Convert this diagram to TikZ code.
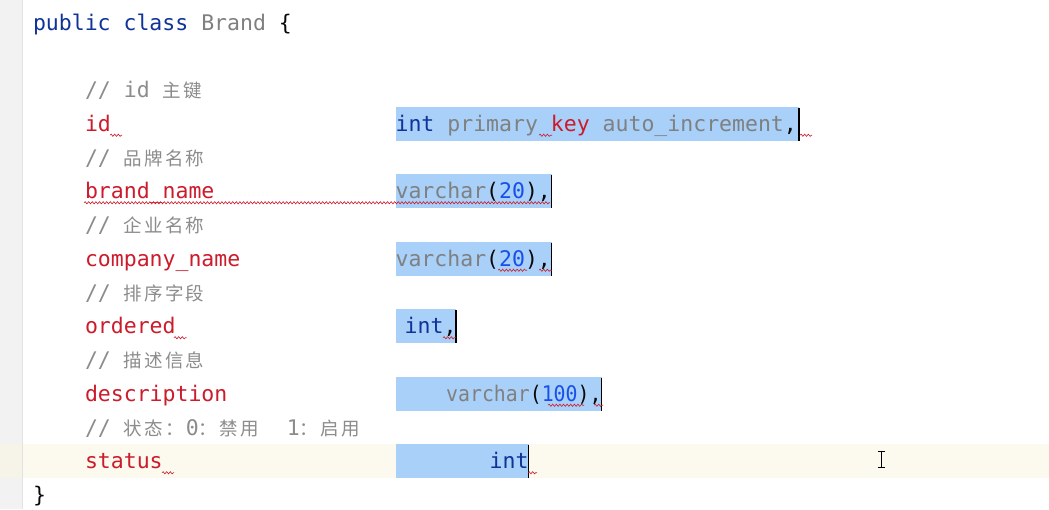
\documentclass[tikz,border=0pt]{standalone}
\usepackage{fontspec}
\newfontfamily\monof{DejaVu Sans Mono}
\newfontfamily\cjkf{Noto Sans CJK SC}
\usetikzlibrary{decorations.pathmorphing}
\definecolor{kw}{HTML}{0F3399}
\definecolor{cm}{HTML}{8C8C8C}
\definecolor{er}{HTML}{CC1B2B}
\definecolor{num}{HTML}{1750EB}
\definecolor{gr}{HTML}{808080}
\definecolor{tx}{HTML}{080808}
\definecolor{sel}{HTML}{A8D0F8}
\definecolor{curline}{HTML}{FCFAEE}
\definecolor{curgut}{HTML}{F6F3E9}
\definecolor{gutter}{HTML}{F2F2F2}
\definecolor{gutline}{HTML}{E2E2E2}
\newcommand\zc[1]{\makebox[20.7pt][l]{\cjkf\fontsize{18.5}{22}\selectfont #1}}
\newcommand\K[1]{\textcolor{kw}{#1}}
\newcommand\G[1]{\textcolor{gr}{#1}}
\newcommand\R[1]{\textcolor{er}{#1}}
\newcommand\N[1]{\textcolor{num}{#1}}
\newcommand\C[1]{\textcolor{cm}{#1}}
\begin{document}
\begin{tikzpicture}[x=1pt,y=-1pt,
  code/.style={anchor=base west,inner sep=0pt,outer sep=0pt,text=tx,
    font=\monof\fontsize{21.5}{26}\selectfont},
  codeE/.style={code,anchor=base east},
  selbox/.style={fill=sel,draw=none},
  caret/.style={draw=black,line width=1.8pt},
  wavy/.style={draw=er,line width=0.6pt,decorate,
    decoration={snake,amplitude=1.1pt,segment length=3.6pt}}]
\useasboundingbox (0,0) rectangle (1049,509);
\fill[white] (0,0) rectangle (1049,509);
% gutter
\fill[gutter] (0,0) rectangle (22,509);
% current line
\fill[curline] (23,444.25) rectangle (1049,478.25);
\fill[curgut] (0,444.25) rectangle (22,478.25);
\draw[gutline,line width=1pt] (22.5,0) -- (22.5,509);
% selections
\fill[selbox] (395.5,106.75) rectangle (799,140.75);
\fill[selbox] (395.5,174.25) rectangle (551.5,208.25);
\fill[selbox] (395.5,241.75) rectangle (551.5,275.75);
\fill[selbox] (395.5,309.25) rectangle (456,343.25);
\fill[selbox] (395.5,376.75) rectangle (601.5,410.75);
\fill[selbox] (395.5,444.25) rectangle (528.5,478.25);
% text
\node[code] (l0) at (33,30) {\K{public class} \G{Brand} \{};
\node[code] (c1) at (85,97.5) {\C{// id \zc{主}\zc{键}}};
\node[code] (f1) at (85,131.25) {\R{id}};
\node[code] (t1) at (395.6,131.25) {\K{int} \G{primary} \R{key} \G{auto\_increment},};
\node[code] (c2) at (85,165) {\C{// \zc{品}\zc{牌}\zc{名}\zc{称}}};
\node[code] (f2) at (85,198.75) {\R{brand\_name}};
\node[code] (t2) at (395.6,198.75) {\G{varchar}(\N{20}),};
\node[code] (c3) at (85,232.5) {\C{// \zc{企}\zc{业}\zc{名}\zc{称}}};
\node[code] (f3) at (85,266.25) {\R{company\_name}};
\node[code] (t3) at (395.6,266.25) {\G{varchar}(\N{20}),};
\node[code] (c4) at (85,300) {\C{// \zc{排}\zc{序}\zc{字}\zc{段}}};
\node[code] (f4) at (85,333.75) {\R{ordered}};
\node[codeE] (t4) at (456.5,333.75) {\K{int},};
\node[code] (c5) at (85,367.5) {\C{// \zc{描}\zc{述}\zc{信}\zc{息}}};
\node[code] (f5) at (85,401.25) {\R{description}};
\node[codeE] (t5) at (601.5,401.25) {\scalebox{0.923}[1]{\G{varchar}(\N{100}),}};
\node[code] (c6) at (85,435) {\C{// \zc{状}\zc{态}\zc{：}0\zc{：}\zc{禁}\zc{用}~~1\zc{：}\zc{启}\zc{用}}};
\node[code] (f6) at (85,468.75) {\R{status}};
\node[codeE] (t6) at (528.5,468.75) {\K{int}};
\node[code] (l14) at (33,502.5) {\}};
% carets
\draw[caret] (799,107.5) -- (799,140.75);
\draw[caret] (551.5,175) -- (551.5,208.25);
\draw[caret] (551.5,242.5) -- (551.5,275.75);
\draw[caret] (456,310) -- (456,343.25);
\draw[caret] (601.5,377.5) -- (601.5,410.75);
\draw[caret] (528.5,445) -- (528.5,478.25);
% wavy underlines
\draw[wavy] (110,135.25) -- (122,135.25);
\draw[wavy] (539,135.25) -- (552,135.25);
\draw[wavy] (800,135.25) -- (812,135.25);
\draw[wavy] (84,202.75) -- (550,202.75);
\draw[wavy] (498,270.25) -- (527,270.25);
\draw[wavy] (539,270.25) -- (552,270.25);
\draw[wavy] (174,337.75) -- (186.5,337.75);
\draw[wavy] (443,337.75) -- (456,337.75);
\draw[wavy] (548,405.25) -- (584,405.25);
\draw[wavy] (594,405.25) -- (603,405.25);
\draw[wavy] (162,472.75) -- (174,472.75);
\draw[wavy] (528,472.75) -- (537,472.75);
% mouse I-beam
\draw[black,line width=1pt] (881,451) -- (881,467)
  (877.5,451) -- (884.5,451) (877.5,467) -- (884.5,467);
\end{tikzpicture}
\end{document}
